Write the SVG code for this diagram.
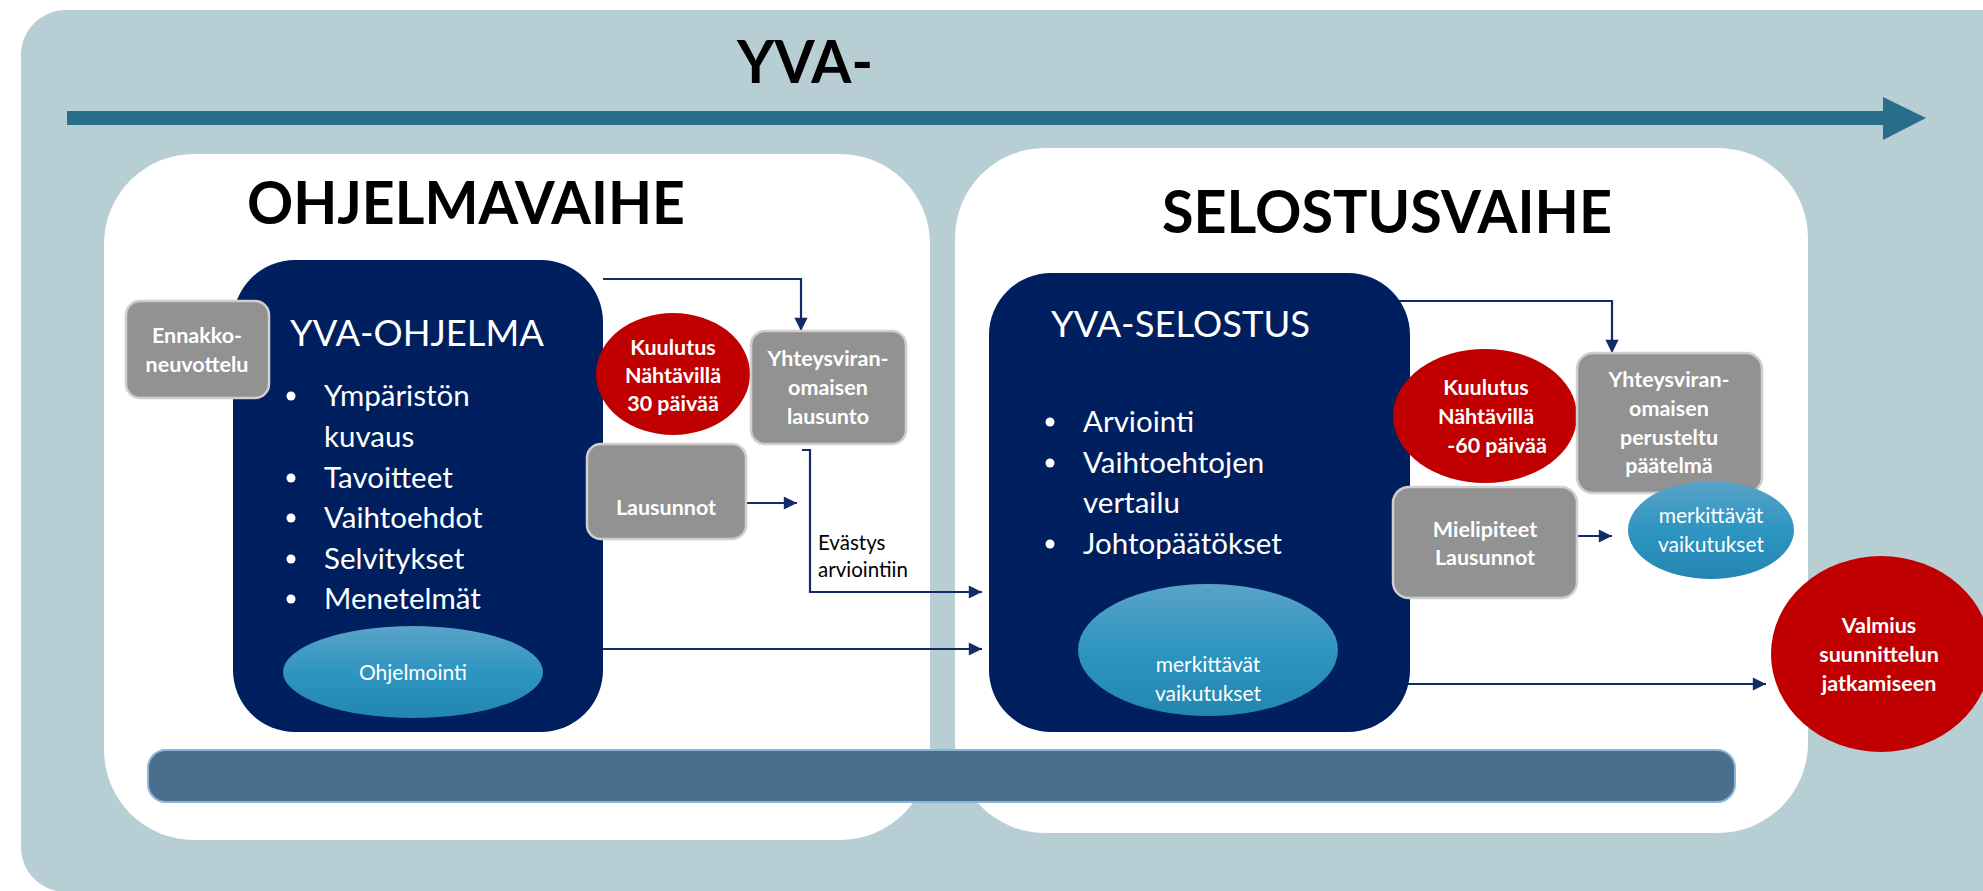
<svg xmlns="http://www.w3.org/2000/svg" width="1983" height="891" viewBox="0 0 1983 891">
<defs>
<style>
text{font-family:Lato,"Liberation Sans",sans-serif;}
.h{font-weight:700;fill:#000;}
.w{fill:#fff;}
.wb{fill:#fff;font-weight:700;font-size:21.5px;text-anchor:middle;}
.gray{fill:#929292;stroke:#cfcfcf;stroke-width:2.5;}
.navy{fill:#001F5E;}
.red{fill:#C00000;}
.con{fill:none;stroke:#112C66;stroke-width:2.2;}
.bul{font-size:29.5px;fill:#fff;}
</style>
<linearGradient id="bg" x1="0" y1="0" x2="0" y2="1">
<stop offset="0" stop-color="#5AA3C8"/>
<stop offset="0.5" stop-color="#2E95C1"/>
<stop offset="1" stop-color="#2286B1"/>
</linearGradient>
<marker id="ah" viewBox="0 0 10 10" refX="10" refY="5" markerWidth="6.5" markerHeight="6" orient="auto" markerUnits="strokeWidth">
<path d="M0,0 L10,5 L0,10 z" fill="#112C66"/>
</marker>
</defs>
<rect width="1983" height="891" fill="#fff"/>
<g id="background">
<rect x="21" y="10" width="2010" height="882" rx="45" fill="#B7CED5"/>
<path d="M67,111 H1883 V97 L1926,118 L1883,140 V125 H67 Z" fill="#286E8A"/>
<text x="805" y="83" class="h" font-size="60" text-anchor="middle" textLength="136" lengthAdjust="spacingAndGlyphs">YVA-</text>
</g>
<g id="panel-ohjelmavaihe">
<rect x="104" y="154" width="826" height="686" rx="90" fill="#fff"/>
<text x="247" y="224" class="h" font-size="60" textLength="438" lengthAdjust="spacingAndGlyphs">OHJELMAVAIHE</text>
</g>
<g id="panel-selostusvaihe">
<rect x="955" y="148" width="853" height="685" rx="90" fill="#fff"/>
<text x="1162" y="233" class="h" font-size="60" textLength="450" lengthAdjust="spacingAndGlyphs">SELOSTUSVAIHE</text>
</g>
<g id="bottom-bar">
<rect x="148" y="750" width="1587" height="52" rx="18" fill="#4A6F8E" stroke="#8BB6DA" stroke-width="2"/>
</g>
<g id="connectors">
<polyline class="con" points="603,279 801,279 801,331" marker-end="url(#ah)"/>
<line class="con" x1="746" y1="503" x2="797" y2="503" marker-end="url(#ah)"/>
<polyline class="con" points="802,450 810,450 810,592 982,592" marker-end="url(#ah)"/>
<line class="con" x1="603" y1="649" x2="982" y2="649" marker-end="url(#ah)"/>
<polyline class="con" points="1397,301 1612,301 1612,353" marker-end="url(#ah)"/>
<line class="con" x1="1562" y1="536" x2="1612" y2="536" marker-end="url(#ah)"/>
<line class="con" x1="1407" y1="684" x2="1766" y2="684" marker-end="url(#ah)"/>
<text x="818" y="550" font-size="20.5" fill="#000">Evästys</text>
<text x="818" y="577" font-size="20.5" fill="#000">arviointiin</text>
</g>
<g id="yva-ohjelma">
<rect x="233" y="260" width="370" height="472" rx="62" class="navy"/>
<text x="290" y="346" class="w" font-size="36" textLength="254" lengthAdjust="spacingAndGlyphs">YVA-OHJELMA</text>
<g class="bul">
<circle cx="291" cy="396" r="4.5" fill="#fff"/>
<text x="324" y="406">Ympäristön</text>
<text x="324" y="447">kuvaus</text>
<circle cx="291" cy="478" r="4.5" fill="#fff"/>
<text x="324" y="488">Tavoitteet</text>
<circle cx="291" cy="518" r="4.5" fill="#fff"/>
<text x="324" y="528">Vaihtoehdot</text>
<circle cx="291" cy="559" r="4.5" fill="#fff"/>
<text x="324" y="569">Selvitykset</text>
<circle cx="291" cy="599" r="4.5" fill="#fff"/>
<text x="324" y="609">Menetelmät</text>
</g>
</g>
<g id="ohjelmointi">
<ellipse cx="413" cy="672" rx="130" ry="46" fill="url(#bg)"/>
<text x="413" y="680" class="w" font-size="21" text-anchor="middle">Ohjelmointi</text>
</g>
<g id="ennakkoneuvottelu">
<rect x="126" y="301" width="143" height="97" rx="14" class="gray"/>
<text x="197" y="343" class="wb">Ennakko-</text>
<text x="197" y="372" class="wb">neuvottelu</text>
</g>
<g id="kuulutus-30">
<ellipse cx="673" cy="374" rx="77" ry="61" class="red"/>
<text x="673" y="355" class="wb">Kuulutus</text>
<text x="673" y="383" class="wb">Nähtävillä</text>
<text x="673" y="411" class="wb">30 päivää</text>
</g>
<g id="lausunto-yhteysviranomainen">
<rect x="751" y="331" width="155" height="113" rx="14" class="gray"/>
<text x="828" y="366" class="wb">Yhteysviran-</text>
<text x="828" y="395" class="wb">omaisen</text>
<text x="828" y="424" class="wb">lausunto</text>
</g>
<g id="lausunnot">
<rect x="587" y="444" width="159" height="95" rx="14" class="gray"/>
<text x="666" y="515" class="wb">Lausunnot</text>
</g>
<g id="yva-selostus">
<rect x="989" y="273" width="421" height="459" rx="62" class="navy"/>
<text x="1051" y="337" class="w" font-size="36" textLength="259" lengthAdjust="spacingAndGlyphs">YVA-SELOSTUS</text>
<g class="bul">
<circle cx="1050" cy="422" r="4.5" fill="#fff"/>
<text x="1083" y="432">Arviointi</text>
<circle cx="1050" cy="463" r="4.5" fill="#fff"/>
<text x="1083" y="473">Vaihtoehtojen</text>
<text x="1083" y="513">vertailu</text>
<circle cx="1050" cy="544" r="4.5" fill="#fff"/>
<text x="1083" y="554">Johtopäätökset</text>
</g>
</g>
<g id="merkittavat-1">
<ellipse cx="1208" cy="650" rx="130" ry="66" fill="url(#bg)"/>
<text x="1208" y="672" class="w" font-size="21" text-anchor="middle">merkittävät</text>
<text x="1208" y="701" class="w" font-size="21" text-anchor="middle">vaikutukset</text>
</g>
<g id="kuulutus-60">
<ellipse cx="1485" cy="416" rx="92" ry="67" class="red"/>
<text x="1486" y="395" class="wb">Kuulutus</text>
<text x="1486" y="424" class="wb">Nähtävillä</text>
<text x="1497" y="453" class="wb">-60 päivää</text>
</g>
<g id="perusteltu-paatelma">
<rect x="1577" y="353" width="185" height="140" rx="16" class="gray"/>
<text x="1669" y="387" class="wb">Yhteysviran-</text>
<text x="1669" y="416" class="wb">omaisen</text>
<text x="1669" y="445" class="wb">perusteltu</text>
<text x="1669" y="473" class="wb">päätelmä</text>
</g>
<g id="mielipiteet-lausunnot">
<rect x="1393" y="487" width="184" height="111" rx="16" class="gray"/>
<text x="1485" y="537" class="wb">Mielipiteet</text>
<text x="1485" y="565" class="wb">Lausunnot</text>
</g>
<g id="merkittavat-2">
<ellipse cx="1711" cy="530" rx="83" ry="49" fill="url(#bg)"/>
<text x="1711" y="523" class="w" font-size="21" text-anchor="middle">merkittävät</text>
<text x="1711" y="552" class="w" font-size="21" text-anchor="middle">vaikutukset</text>
</g>
<g id="valmius">
<ellipse cx="1881" cy="654" rx="110" ry="98" class="red"/>
<text x="1879" y="633" class="wb">Valmius</text>
<text x="1879" y="662" class="wb">suunnittelun</text>
<text x="1879" y="691" class="wb">jatkamiseen</text>
</g>
</svg>
